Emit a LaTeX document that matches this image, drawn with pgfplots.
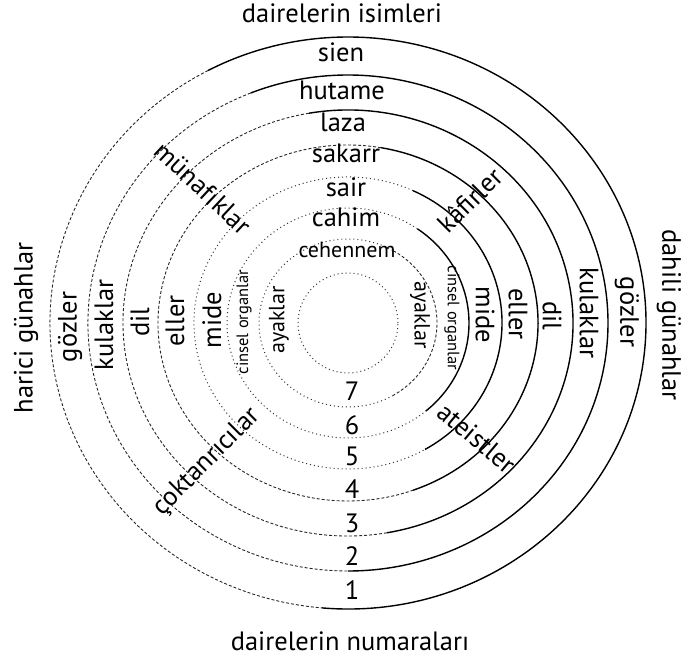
\documentclass[border=0pt]{standalone}
\usepackage{fontspec}
\setmainfont{PT Sans}
\usepackage{pgfplots}
\pgfplotsset{compat=1.18}
\usetikzlibrary{calc}
\newcommand\lab{\fontsize{26.5bp}{30bp}\selectfont}
\newcommand\mlab{\fontsize{22bp}{25bp}\selectfont}
\newcommand\slab{\fontsize{16.5bp}{19bp}\selectfont}
% elliptic arc: style, rx, ry, start, end
\newcommand\earc[5]{\draw[#1] ($(axis cs:348,337)+(#4:#2bp and #3bp)$) arc[start angle=#4, end angle=#5, x radius=#2bp, y radius=#3bp];}
\begin{document}
\begin{tikzpicture}
\useasboundingbox (0,0) rectangle (686bp,660bp);
\begin{axis}[hide axis, x=1bp, y=1bp, xmin=0, xmax=686, ymin=0, ymax=660, clip=false,
  at={(0,0)}, anchor=south west]
\tikzset{
  sol/.style={black, line width=1.4bp},
  dsh/.style={black!85, line width=0.9bp, dash pattern=on 3bp off 2bp},
  dtt/.style={black!80, line width=1bp, dash pattern=on 1bp off 3bp},
}
% circles (rx, ry)
\earc{sol}{298}{286}{-95}{118}
\earc{dsh}{298}{286}{118}{265}
\earc{sol}{260}{248}{-90}{112}
\earc{dsh}{260}{248}{112}{270}
\earc{sol}{225}{213}{-80}{100}
\earc{dsh}{225}{213}{100}{280}
\earc{sol}{190}{178}{-70}{80}
\earc{dsh}{190}{178}{80}{290}
\earc{sol}{154}{146}{-60}{65}
\earc{dtt}{154}{146}{65}{300}
\earc{sol}{121}{115}{-50}{55}
\earc{dtt}{121}{115}{55}{310}
\earc{dsh}{89}{84}{-60}{60}
\earc{dtt}{89}{84}{60}{300}
\earc{dtt}{50}{50}{0}{360}
% titles
\node[font=\lab, anchor=base] at (axis cs:342,637) {dairelerin isimleri};
\node[font=\lab, anchor=base] at (axis cs:350,9) {dairelerin numaraları};
\node[font=\lab, rotate=90] at (axis cs:26,332) {harici günahlar};
\node[font=\lab, rotate=-90] at (axis cs:669,345) {dahili günahlar};
% names (top)
\node[font=\lab, anchor=base] at (axis cs:341,598) {sien};
\node[font=\lab, anchor=base] at (axis cs:342,560) {hutame};
\node[font=\lab, anchor=base] at (axis cs:343,528) {laza};
\node[font=\lab, anchor=base] at (axis cs:346,497) {sakarr};
\node[font=\lab, anchor=base] at (axis cs:346,463) {sair};
\node[font=\lab, anchor=base] at (axis cs:346,433) {cahim};
\node[font=\mlab, anchor=base] at (axis cs:347,402) {cehennem};
% numbers (bottom)
\node[font=\lab, anchor=base] at (axis cs:352,259) {7};
\node[font=\lab, anchor=base] at (axis cs:352,225) {6};
\node[font=\lab, anchor=base] at (axis cs:352,194) {5};
\node[font=\lab, anchor=base] at (axis cs:352,161) {4};
\node[font=\lab, anchor=base] at (axis cs:352,127) {3};
\node[font=\lab, anchor=base] at (axis cs:352,94) {2};
\node[font=\lab, anchor=base] at (axis cs:352,60) {1};
% left
\node[font=\lab, rotate=90] at (axis cs:70,333) {gözler};
\node[font=\lab, rotate=90] at (axis cs:104,335) {kulaklar};
\node[font=\lab, rotate=90] at (axis cs:140,338) {dil};
\node[font=\lab, rotate=90] at (axis cs:175,339) {eller};
\node[font=\lab, rotate=90] at (axis cs:212,340) {mide};
\node[font=\slab, rotate=90] at (axis cs:244,338) {cinsel organlar};
\node[font=\mlab, rotate=90] at (axis cs:279,340) {ayaklar};
% right
\node[font=\mlab, rotate=-90] at (axis cs:420,345) {ayaklar};
\node[font=\slab, rotate=-90] at (axis cs:452,342) {cinsel organlar};
\node[font=\lab, rotate=-90] at (axis cs:485,345) {mide};
\node[font=\lab, rotate=-90] at (axis cs:518,346) {eller};
\node[font=\lab, rotate=-90] at (axis cs:552,344) {dil};
\node[font=\lab, rotate=-90] at (axis cs:589,347) {kulaklar};
\node[font=\lab, rotate=-90] at (axis cs:627,348) {gözler};
% diagonals
\node[font=\lab, rotate=-43] at (axis cs:203,472) {münafıklar};
\node[font=\lab, rotate=45] at (axis cs:470,460) {kâfirler};
\node[font=\lab, rotate=-40] at (axis cs:477,222) {ateistler};
\node[font=\lab, rotate=45] at (axis cs:207,198) {çoktanrıcılar};
\end{axis}
\end{tikzpicture}
\end{document}
